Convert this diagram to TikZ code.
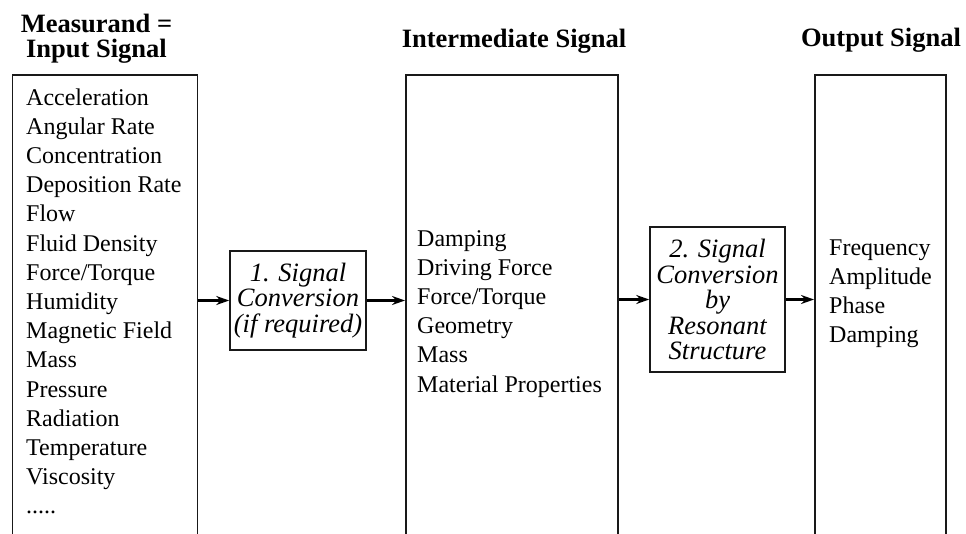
\documentclass[tikz,border=0pt]{standalone}
\usepackage{fontspec}
\setmainfont{Liberation Serif}
\usetikzlibrary{arrows.meta}
\begin{document}
\begin{tikzpicture}[x=1pt,y=-1pt,
  panel/.style={draw=black!90,line width=1.6pt,inner sep=0pt,anchor=north west},
  stage/.style={draw=black!90,line width=1.6pt,inner sep=0pt,align=center,
    font=\fontsize{26.5}{25.5}\selectfont\itshape},
  item/.style={anchor=base west,inner sep=0pt,font=\fontsize{24}{29}\selectfont},
  head/.style={anchor=base,inner sep=0pt,font=\fontsize{26.5}{25}\selectfont\bfseries},
  arr/.style={-{Stealth[length=13pt,width=9pt]},line width=2.2pt}]
\clip (0,0) rectangle (966,533);

% column headings
\node[head] (hin1) at (96.5,32) {Measurand =};
\node[head] (hin2) at (96.5,57) {Input Signal};
\node[head] (hmid) at (514,47) {Intermediate Signal};
\node[head] (hout) at (881,46) {Output Signal};

% the three open-bottomed signal columns
\node[panel,minimum width=185pt,minimum height=480pt] (inbox) at (11.5,74) {};
\node[panel,minimum width=212pt,minimum height=480pt] (midbox) at (405,74) {};
\node[panel,minimum width=131pt,minimum height=480pt] (outbox) at (814,74) {};

% measurands
\foreach \t [count=\i from 0] in {Acceleration,Angular Rate,Concentration,
  Deposition Rate,Flow,Fluid Density,Force/Torque,Humidity,Magnetic Field,
  Mass,Pressure,Radiation,Temperature,Viscosity}
  \node[item] (in\i) at (26,105+29.2*\i) {\t};
\node[item] (inmore) at (26,105+29.2*14) {.....};

% intermediate signals
\foreach \t [count=\i from 0] in {Damping,Driving Force,Force/Torque,
  Geometry,Mass,Material Properties}
  \node[item] (mid\i) at (417,246+29.2*\i) {\t};

% output signals
\foreach \t [count=\i from 0] in {Frequency,Amplitude,Phase,Damping}
  \node[item] (out\i) at (829,255+29.2*\i) {\t};

% conversion stages
\node[stage,minimum width=136pt,minimum height=99pt] (conv1) at (298,300.5)
  {1. Signal\\Conversion\\(if required)};
\node[stage,minimum width=135pt,minimum height=145pt] (conv2) at (717.5,299.5)
  {2. Signal\\Conversion\\by\\Resonant\\Structure};

% signal flow
\draw[arr] (inbox.east |- conv1.west) -- (conv1.west);
\draw[arr] (conv1.east) -- (midbox.west |- conv1.east);
\draw[arr] (midbox.east |- conv2.west) -- (conv2.west);
\draw[arr] (conv2.east) -- (outbox.west |- conv2.east);
\end{tikzpicture}
\end{document}
